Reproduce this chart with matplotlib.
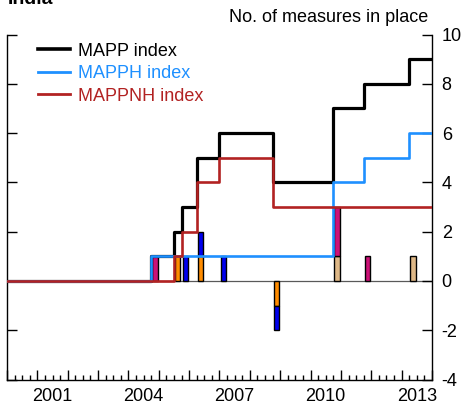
import numpy as np
import matplotlib
matplotlib.use("Agg")
import matplotlib.pyplot as plt
from matplotlib.ticker import MultipleLocator

plt.rcParams['font.family'] = ['Liberation Sans', 'DejaVu Sans']

# index levels (step changes, quarter start dates)
mapp_x = [2000.0, 2004.75, 2005.5, 2005.75, 2006.25, 2007.0, 2008.75, 2010.75, 2011.75, 2013.25, 2014.0]
mapp_y = [0, 1, 2, 3, 5, 6, 4, 7, 8, 9, 9]
mapph_x = [2000.0, 2004.75, 2010.75, 2011.75, 2013.25, 2014.0]
mapph_y = [0, 1, 4, 5, 6, 6]
mappnh_x = [2000.0, 2005.5, 2005.75, 2006.25, 2007.0, 2008.75, 2014.0]
mappnh_y = [0, 1, 2, 4, 5, 3, 3]

# new measures per quarter, by type
bar_years = [2004, 2005, 2005, 2006, 2007, 2008, 2010, 2011, 2013]
bar_qtrs = [4, 3, 4, 2, 1, 4, 4, 4, 2]
tan = [0, 0, 0, 0, 0, 0, 1, 0, 1]
orange = [0, 1, 0, 1, 0, -1, 0, 0, 0]
magenta = [1, 0, 0, 0, 0, 0, 2, 1, 0]
blue = [0, 0, 1, 1, 1, -1, 0, 0, 0]

year_labels = [2001, 2004, 2007, 2010, 2013]

fig = plt.figure(figsize=(4.63, 4.04), dpi=100)
ax = fig.add_axes([7/463, 1-379.5/404, 425/463, 345/404])

bx = np.array(bar_years) + (np.array(bar_qtrs) - 1) / 4 + 0.125
pos = np.zeros(len(bx))
neg = np.zeros(len(bx))
for vals, col in [(tan, '#DEB887'), (orange, '#FF8C00'), (magenta, '#CC1177'), (blue, '#0000EE')]:
    v = np.array(vals, dtype=float)
    base = np.where(v >= 0, pos, neg)
    m = v != 0
    ax.bar(bx[m], v[m], bottom=base[m], width=0.18, color=col, edgecolor='black', linewidth=1, zorder=2)
    pos = pos + np.where(v > 0, v, 0)
    neg = neg + np.where(v < 0, v, 0)

ax.axhline(0, color='0.35', lw=0.9, zorder=1)

ax.step(mapp_x, mapp_y, where='post', color='black', lw=2.3, label='MAPP index', zorder=3)
ax.step(mapph_x, mapph_y, where='post', color='#1E90FF', lw=1.9, label='MAPPH index', zorder=4)
ax.step(mappnh_x, mappnh_y, where='post', color='#B22222', lw=1.9, label='MAPPNH index', zorder=4)

ax.set_xlim(2000, 2014)
ax.set_ylim(-4, 10)
ax.set_yticks(range(-4, 11, 2))
ax.set_yticklabels([str(v) for v in range(-4, 11, 2)])
ax.tick_params(axis='y', left=True, right=True, labelleft=False, labelright=True,
               direction='in', length=7, width=1, labelsize=13, pad=7)
ax.xaxis.set_major_locator(MultipleLocator(1))
ax.xaxis.set_minor_locator(MultipleLocator(0.25))
ax.tick_params(axis='x', which='major', direction='in', length=7, width=1, labelbottom=False)
ax.tick_params(axis='x', which='minor', direction='in', length=3.5, width=1)
ax.spines['top'].set_visible(False)
for s in ['left', 'right', 'bottom']:
    ax.spines[s].set_linewidth(1)

for yr in year_labels:
    ax.text(yr + 0.5, -0.026, str(yr), transform=ax.get_xaxis_transform(),
            ha='center', va='top', fontsize=13)

leg = ax.legend(loc='upper left', bbox_to_anchor=(0.073, 0.976), frameon=False,
                fontsize=13, handlelength=1.76, handletextpad=0.45, labelspacing=0.3,
                borderpad=0, borderaxespad=0)
for txt, ln in zip(leg.get_texts(), leg.get_lines()):
    txt.set_color(ln.get_color())
    ln.set_linewidth(2.6 if ln.get_color() == 'black' else 2.0)

fig.text(428/463, 1-18/404, 'No. of measures in place', ha='right', va='center', fontsize=13)
fig.text(8/463, 1-4/404, 'India', ha='left', va='baseline', fontsize=14, fontweight='bold')

fig.savefig('out.png', dpi=100)
